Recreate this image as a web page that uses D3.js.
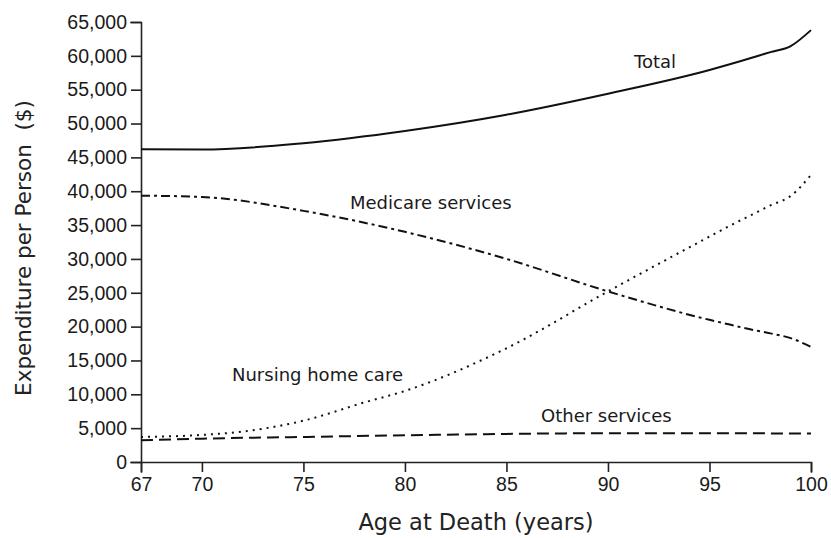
<!DOCTYPE html>
<html>
<head>
<meta charset="utf-8">
<script src="https://cdn.jsdelivr.net/npm/d3@7"></script>
<style>
  body { margin: 0; background: #fff; }
  svg { display: block; font-family: "DejaVu Sans", sans-serif; }
  .axis path, .axis line { stroke: #222; stroke-width: 1.6px; }
  .axis text { fill: #1a1a1a; font-size: 19.5px; }
</style>
</head>
<body>
<svg id="chart" width="831" height="538"></svg>
<script>
/* datos */
var edades = [67, 70, 75, 80, 85, 90, 95, 96, 97, 98, 99, 100]
var total = [46200, 46150, 47100, 48900, 51300, 54400, 57900, 58750, 59650, 60550, 61450, 63800]
var medicare = [39350, 39150, 37100, 34000, 30000, 25200, 21000, 20300, 19600, 19000, 18300, 17000]

var edadesNursing = [67, 70, 72, 75, 78, 80, 85, 90, 95, 96, 97, 98, 99, 100]
var nursing = [3700, 4000, 4500, 6100, 8800, 10500, 16800, 25200, 33300, 34900, 36400, 37900, 39300, 42400]

var edadesOtros = [67, 70, 75, 80, 85, 90, 95, 100]
var otros = [3200, 3450, 3700, 3950, 4150, 4250, 4250, 4200]

var ticksX = [67, 70, 75, 80, 85, 90, 95, 100]
var ticksY = [0, 5000, 10000, 15000, 20000, 25000, 30000, 35000, 40000, 45000, 50000, 55000, 60000, 65000]

var svg = d3.select("#chart")

var x = d3.scaleLinear().domain([67, 100]).range([141, 811])
var y = d3.scaleLinear().domain([0, 65000]).range([462, 22])

/* ejes */
svg.append("g")
    .attr("class", "axis")
    .attr("transform", "translate(0,462)")
    .call(d3.axisBottom(x).tickValues(ticksX).tickSize(10).tickPadding(5).tickFormat(d3.format("d")))

svg.append("g")
    .attr("class", "axis")
    .attr("transform", "translate(141,0)")
    .call(d3.axisLeft(y).tickValues(ticksY).tickSize(10).tickPadding(4).tickFormat(d3.format(",")))

svg.selectAll(".axis .domain").attr("stroke-linecap", "square")

/* lineas */
function dibujar(xs, ys, dash, ancho) {
    var puntos = xs.map(function (d, i) { return [d, ys[i]] })
    var linea = d3.line()
        .x(function (d) { return x(d[0]) })
        .y(function (d) { return y(d[1]) })
        .curve(d3.curveMonotoneX)
    svg.append("path")
        .datum(puntos)
        .attr("d", linea)
        .attr("fill", "none")
        .attr("stroke", "#111")
        .attr("stroke-width", ancho)
        .attr("stroke-dasharray", dash)
}

dibujar(edades, total, null, 2)
dibujar(edades, medicare, "9,4,3,4", 2)
dibujar(edadesNursing, nursing, "2,5", 2)
dibujar(edadesOtros, otros, "12,6", 2)

/* etiquetas */
var etiquetas = [
    { texto: "Total", x: 634, y: 68 },
    { texto: "Medicare services", x: 350, y: 209 },
    { texto: "Nursing home care", x: 232, y: 381 },
    { texto: "Other services", x: 541, y: 422 }
]
svg.selectAll("text.etiqueta")
    .data(etiquetas)
    .enter().append("text")
    .attr("class", "etiqueta")
    .attr("x", function (d) { return d.x })
    .attr("y", function (d) { return d.y })
    .attr("font-size", 18)
    .attr("fill", "#1a1a1a")
    .text(function (d) { return d.texto })

/* titulos de ejes */
svg.append("text")
    .attr("x", 476)
    .attr("y", 530)
    .attr("text-anchor", "middle")
    .attr("font-size", 22.5)
    .attr("fill", "#222")
    .text("Age at Death (years)")

svg.append("text")
    .attr("transform", "translate(31,248) rotate(-90)")
    .attr("text-anchor", "middle")
    .attr("font-size", 21.5)
    .attr("fill", "#222")
    .style("white-space", "pre")
    .text("Expenditure per Person  ($)")
</script>
</body>
</html>
